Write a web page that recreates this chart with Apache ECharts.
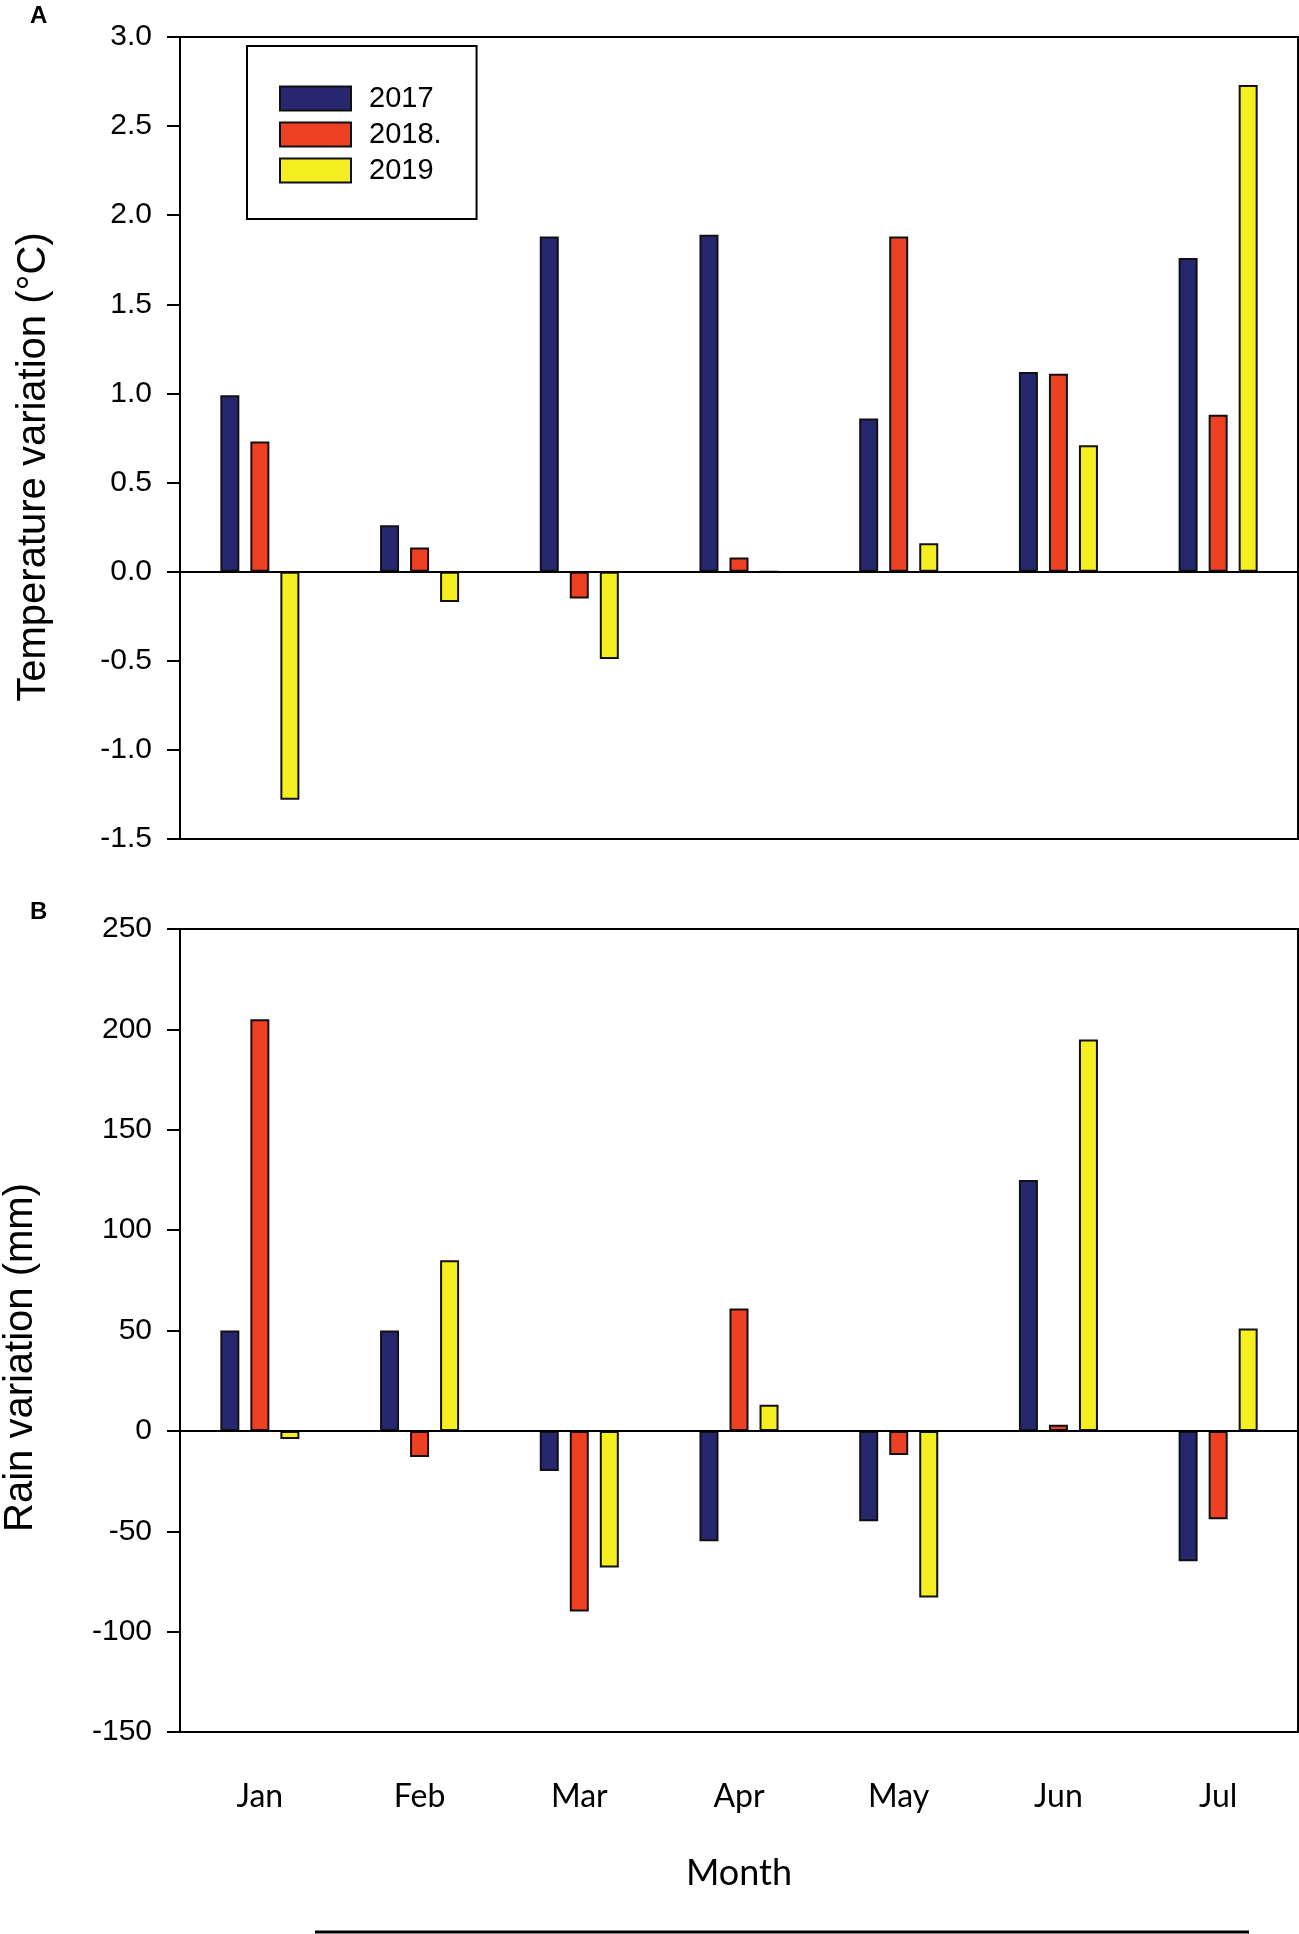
<!DOCTYPE html>
<html lang="en">
<head>
    <meta charset="UTF-8">
    <title>Temperature and rain variation</title>
    <script src="https://cdn.jsdelivr.net/npm/echarts@6/dist/echarts.min.js"></script>
    <style>
        html, body { margin: 0; padding: 0; background: #fff; }
    </style>
</head>
<body>
<div id="main" style="width: 1299px;height:1934px;"></div>
<script>
    // values
    let months = ['Jan', 'Feb', 'Mar', 'Apr', 'May', 'Jun', 'Jul'];
    let years = ['2017', '2018.', '2019'];
    let colors = ['#26276e', '#ee4023', '#f5ee20'];

    let temp2017 = [0.99, 0.26, 1.88, 1.89, 0.86, 1.12, 1.76];
    let temp2018 = [0.73, 0.135, -0.15, 0.08, 1.88, 1.11, 0.88];
    let temp2019 = [-1.28, -0.17, -0.49, 0, 0.16, 0.71, 2.73];

    let rain2017 = [50, 50, -20, -55, -45, 125, -65];
    let rain2018 = [205, -13, -90, 61, -12, 3, -44];
    let rain2019 = [-4, 85, -68, 13, -83, 195, 51];

    let tempTicks = { min: -1.5, max: 3.0, interval: 0.5 };
    let rainTicks = { min: -150, max: 250, interval: 50 };

    let axisFont = 'Liberation Sans, Arial, sans-serif';
    let monthFont = 'Lato, "Open Sans", sans-serif';

    let zeroLine = {
        silent: true,
        symbol: ['none', 'none'],
        label: { show: false },
        lineStyle: { color: '#000', width: 2, type: 'solid' },
        data: [{ yAxis: 0 }]
    };

    function makeSeries(name, values, color, gridNo, withZero) {
        let s = {
            name: name,
            type: 'bar',
            xAxisIndex: gridNo,
            yAxisIndex: gridNo,
            data: values,
            barWidth: 19,
            barGap: '58%',
            itemStyle: { color: color, borderColor: '#111', borderWidth: 2 },
            emphasis: { disabled: true },
            animation: false
        };
        if (withZero) s.markLine = zeroLine;
        return s;
    }

    function xAx(gridNo, showLabels) {
        let ax = {
            type: 'category',
            gridIndex: gridNo,
            data: months,
            axisLine: { onZero: false, lineStyle: { color: '#000', width: 2 } },
            axisTick: { alignWithLabel: true, length: 12, lineStyle: { color: '#000', width: 2 } },
            axisLabel: { show: showLabels, margin: 49, fontSize: 32, color: '#000', fontFamily: monthFont },
            splitLine: { show: false }
        };
        if (showLabels) {
            ax.name = 'Month';
            ax.nameLocation = 'middle';
            ax.nameGap = 123;
            ax.nameTextStyle = { fontSize: 36, color: '#000', fontFamily: monthFont };
        }
        return ax;
    }

    function yAx(gridNo, ticks, title, gap, shift, fmt) {
        return {
            type: 'value',
            gridIndex: gridNo,
            min: ticks.min,
            max: ticks.max,
            interval: ticks.interval,
            name: title,
            nameLocation: 'middle',
            nameGap: gap,
            nameRotate: 90,
            nameTextStyle: {
                fontSize: 40, color: '#000', fontFamily: axisFont,
                padding: [0, shift, 0, 0]
            },
            axisLine: { show: true, lineStyle: { color: '#000', width: 2 } },
            axisTick: { show: true, length: 13, lineStyle: { color: '#000', width: 2 } },
            axisLabel: { margin: 28, fontSize: 30, color: '#000', fontFamily: axisFont, formatter: fmt },
            splitLine: { show: false }
        };
    }

    let myChart = echarts.init(document.getElementById('main'), null, { renderer: 'canvas' });
    let option = {
        backgroundColor: '#fff',
        animation: false,
        grid: [
            { left: 180, top: 37, right: 1, height: 802, show: true, borderColor: '#000', borderWidth: 2,
              containLabel: false, outerBoundsMode: 'none' },
            { left: 180, top: 929, right: 1, height: 803, show: true, borderColor: '#000', borderWidth: 2,
              containLabel: false, outerBoundsMode: 'none' }
        ],
        legend: {
            data: years,
            orient: 'vertical',
            left: 247,
            top: 46,
            padding: [38, 35, 34, 32],
            borderColor: '#000',
            borderWidth: 2,
            backgroundColor: '#fff',
            itemWidth: 71,
            itemHeight: 24,
            itemGap: 7,
            icon: 'rect',
            selectedMode: false,
            textStyle: { fontSize: 29, color: '#000', fontFamily: axisFont, lineHeight: 24, padding: [0, 0, 0, 13] }
        },
        xAxis: [xAx(0, false), xAx(1, true)],
        yAxis: [
            yAx(0, tempTicks, 'Temperature variation (°C)', 126, 58, function (v) { return v.toFixed(1); }),
            yAx(1, rainTicks, 'Rain variation (mm)', 139, 54, function (v) { return String(v); })
        ],
        series: [
            makeSeries(years[0], temp2017, colors[0], 0, true),
            makeSeries(years[1], temp2018, colors[1], 0, false),
            makeSeries(years[2], temp2019, colors[2], 0, false),
            makeSeries(years[0], rain2017, colors[0], 1, true),
            makeSeries(years[1], rain2018, colors[1], 1, false),
            makeSeries(years[2], rain2019, colors[2], 1, false)
        ],
        graphic: [
            { type: 'text', left: 30, top: 4, style: { text: 'A', fontSize: 24, fontWeight: 'bold', fontFamily: axisFont, fill: '#000' } },
            { type: 'text', left: 30, top: 900, style: { text: 'B', fontSize: 24, fontWeight: 'bold', fontFamily: axisFont, fill: '#000' } },
            { type: 'line', shape: { x1: 315, y1: 1932, x2: 1249, y2: 1932 }, style: { stroke: '#000', lineWidth: 3 } }
        ]
    };
    myChart.setOption(option);
</script>
</body>
</html>
